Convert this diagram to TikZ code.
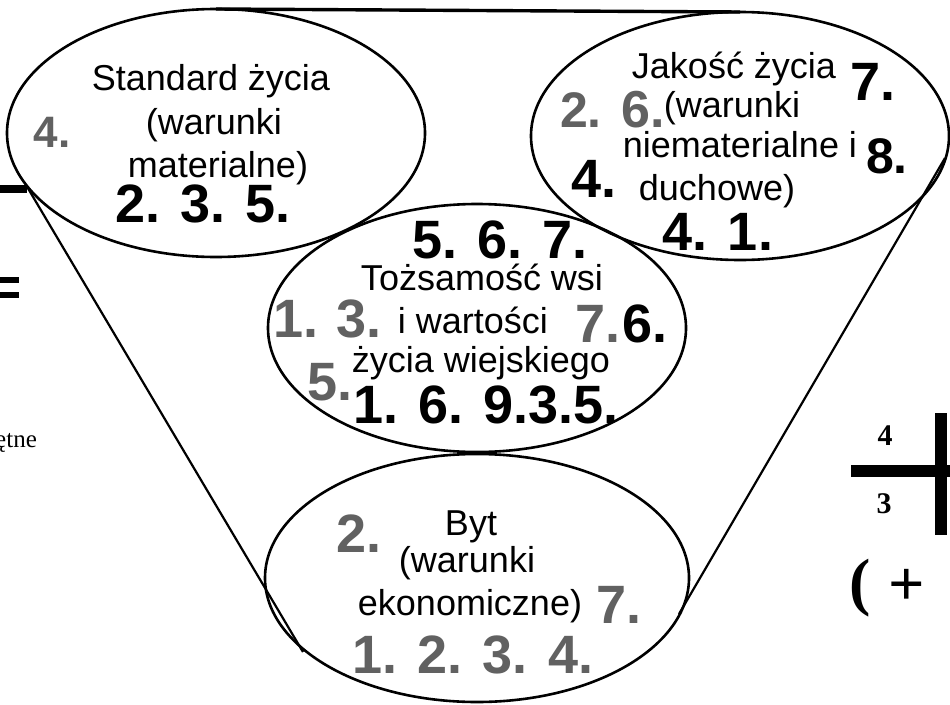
\documentclass[tikz,border=0pt]{standalone}
\usepackage{fontspec}
\setmainfont{Liberation Sans}
\newfontfamily\seriff{Liberation Serif}
\usetikzlibrary{shapes.geometric}
\begin{document}
\begin{tikzpicture}[x=1pt,y=-1pt,
  oval/.style={draw, ellipse, line width=2.6pt, minimum width=418pt, minimum height=248pt, inner sep=0pt, outer sep=0pt},
  lbl/.style={anchor=base, inner sep=0pt, font=\fontsize{36}{40}\selectfont},
  numb/.style={anchor=base, inner sep=0pt, font=\fontsize{54}{58}\selectfont\bfseries},
  numg/.style={numb, text=black!62},
  funnel/.style={line width=2.2pt},
  frag/.style={anchor=base, inner sep=0pt, font=\seriff\bfseries\fontsize{30}{32}\selectfont},
  bigfrag/.style={anchor=base, inner sep=0pt, font=\seriff\bfseries\fontsize{64}{70}\selectfont}
]
\fill[white] (0,0) rectangle (950,704);
\useasboundingbox (0,0) rectangle (950,704);

% ellipses
\node[oval] (TL) at (216,133) {};
\node[oval] (TR) at (740,136) {};
\node[oval] (M) at (477,328) {};
\node[oval, minimum width=424pt] (B) at (477,578) {};

% funnel
\draw[line width=3.4pt] (TL.north) -- (TR.north);
\coordinate (fl1) at (26,185);
\coordinate (fl2) at (303,652);
\coordinate (fr1) at (945,158);
\coordinate (fr2) at (679,614);
\draw[funnel] (fl1) -- (fl2);
\draw[funnel] (fr1) -- (fr2);

% top-left ellipse texts
\node[lbl] (tl1) at (211,90) {Standard życia};
\node[lbl] (tl2) at (214,134) {(warunki};
\node[lbl] (tl3) at (218,177) {materialne)};
\node[numb] (tl4) at (203,222) {2. 3. 5.};
\node[numg, font=\fontsize{44}{48}\selectfont\bfseries] (tl5) at (52,147) {4.};

% top-right ellipse texts
\node[lbl] (tr1) at (734,78) {Jakość życia};
\node[numb] (tr2) at (873,100) {7.};
\node[numg, font=\fontsize{50}{54}\selectfont\bfseries] (tr3) at (581,127) {2.};
\node[numg, font=\fontsize{52}{56}\selectfont\bfseries] (tr4) at (643,127) {6.};
\node[lbl] (tr5) at (732,117) {(warunki};
\node[lbl] (tr6) at (740,157) {niematerialne i};
\node[numb, font=\fontsize{50}{54}\selectfont\bfseries] (tr7) at (887,173) {8.};
\node[numb] (tr8) at (594,197) {4.};
\node[lbl] (tr9) at (717,200) {duchowe)};
\node[numb] (tr10) at (718,250) {4. 1.};

% middle ellipse texts
\node[numb] (m1) at (500,258) {5. 6. 7.};
\node[lbl] (m2) at (482,290) {Tożsamość wsi};
\node[numg] (m3) at (296,337) {1.};
\node[numg] (m4) at (359,337) {3.};
\node[lbl] (m5) at (473,333) {i wartości};
\node[numg] (m6) at (598,342) {7.};
\node[numb] (m7) at (645,342) {6.};
\node[numg] (m8) at (330,400) {5.};
\node[lbl] (m9) at (481,372) {życia wiejskiego};
\node[numb] (m10) at (486,423) {1. 6. 9.3.5.};

% bottom ellipse texts
\node[numg] (b1) at (359,552) {2.};
\node[lbl] (b2) at (471,535) {Byt};
\node[lbl] (b3) at (467,572) {(warunki};
\node[lbl] (b4) at (470,615) {ekonomiczne)};
\node[numg] (b5) at (619,623) {7.};
\node[numg] (b6) at (473,673) {1. 2. 3. 4.};

% fragments at the left edge
\fill (0,185) rectangle (27,193);
\fill (0,277) rectangle (19,283);
\fill (0,292) rectangle (19,298);
\node[anchor=base west, inner sep=0pt, font=\seriff\fontsize{25}{28}\selectfont] (f1) at (-5,447) {ętne};

% fragments at the right edge
\node[frag] (f2) at (885,445) {4};
\node[frag] (f3) at (884,513) {3};
\fill (851,465) rectangle (950,477);
\fill (935,413) rectangle (947,535);
\node[bigfrag] (f4) at (860,603) {(};
\node[bigfrag] (f5) at (907,605) {+};
\end{tikzpicture}
\end{document}
